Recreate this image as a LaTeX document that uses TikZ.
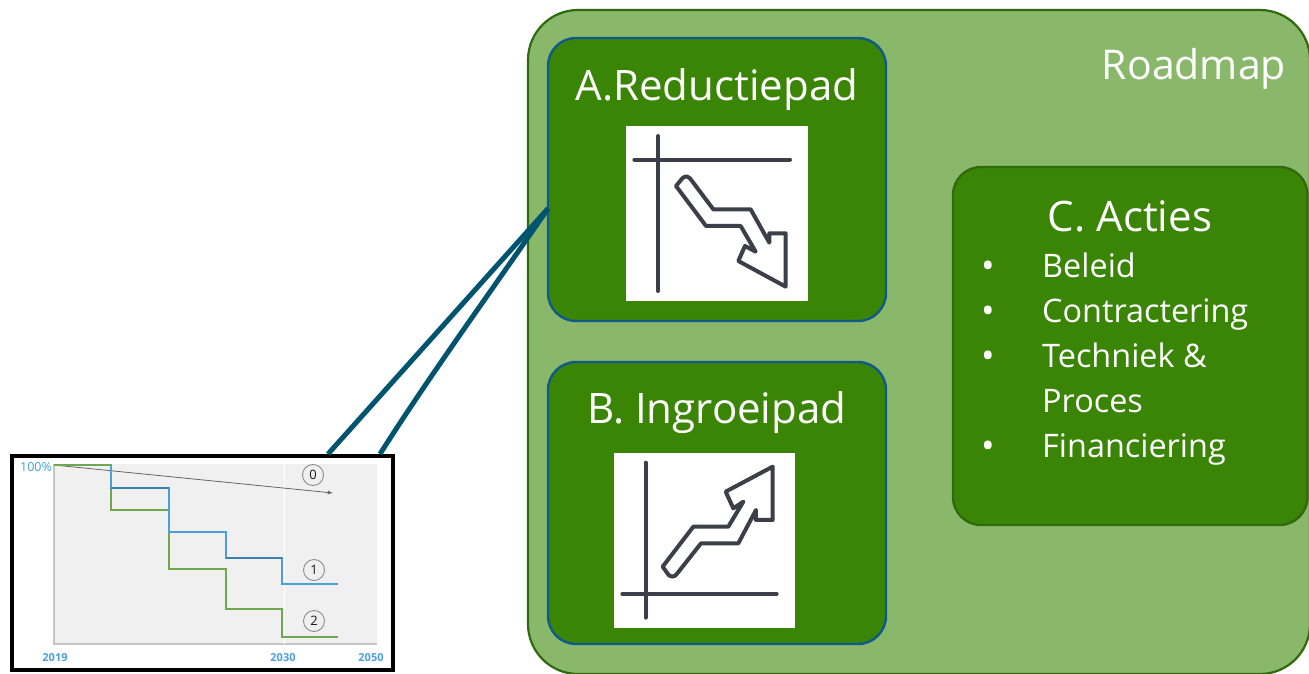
\documentclass[tikz,border=0pt]{standalone}
\usepackage{fontspec}
\setmainfont{Open Sans}
\definecolor{outerfill}{HTML}{8AB86B}
\definecolor{outerline}{HTML}{2F6A0C}
\definecolor{boxfill}{HTML}{3A8506}
\definecolor{boxline}{HTML}{0F5A8A}
\definecolor{teal}{HTML}{005470}
\definecolor{iconink}{HTML}{3A3F4A}
\definecolor{chartbg}{HTML}{F0F0F0}
\definecolor{chartaxis}{HTML}{C6C6C6}
\definecolor{chartblue}{HTML}{4AA0DC}
\definecolor{chartgreen}{HTML}{6FA84F}
\tikzset{
  x=1pt,y=-1pt,
  panel/.style={draw=boxline,line width=2.4pt,fill=boxfill,rounded corners=28pt,inner sep=0pt,outer sep=0pt,anchor=north west},
  heading/.style={text=white,font=\fontsize{42}{50}\selectfont,inner sep=0pt},
  listitem/.style={text=white,font=\fontsize{32.4}{38}\selectfont,inner sep=0pt,anchor=base west},
  bulletmark/.style={text=white,font=\fontsize{36}{42}\selectfont,inner sep=0pt,anchor=base},
  iconbox/.style={fill=white,inner sep=0pt,outer sep=0pt,anchor=north west},
  iconstroke/.style={draw=iconink,line width=4pt,line cap=round,line join=round},
  connector/.style={draw=teal,line width=5pt},
  stepline/.style={line width=1.5pt,line join=miter},
  yearlabel/.style={text=chartblue,font=\fontsize{11}{13}\selectfont\bfseries,inner sep=0pt},
  numcircle/.style={circle,draw=black!45,fill=chartbg,line width=0.9pt,minimum size=21pt,inner sep=0pt,text=black!90,font=\fontsize{13}{15}\selectfont},
}
\begin{document}
\begin{tikzpicture}
\useasboundingbox (0,0) rectangle (1309,674);
\fill[white] (0,0) rectangle (1309,674);
% outer panel
\node[draw=outerline,line width=2.2pt,fill=outerfill,rounded corners=50pt,inner sep=0pt,outer sep=0pt,anchor=north west,minimum width=782pt,minimum height=664pt] (outer) at (528,10) {};
\node[heading,font=\fontsize{41}{50}\selectfont] (roadmap) at (1194,69) {Roadmap};
% chart frame
\node[draw=black,line width=4pt,fill=white,inner sep=0pt,outer sep=0pt,anchor=north west,minimum width=381pt,minimum height=214pt] (frame) at (12,456) {};
% panels
\node[panel,minimum width=338pt,minimum height=283pt] (panelA) at (548,38) {};
\node[panel,minimum width=338pt,minimum height=282pt] (panelB) at (548,362) {};
\node[panel,draw=outerline,minimum width=354.5pt,minimum height=358pt] (panelC) at (953,167) {};
% connectors
\coordinate (tipA) at (panelA.west);
\coordinate (tipF1) at (328,454);
\coordinate (tipF2) at (380,454);
\draw[connector] ([yshift=-29pt]tipA) -- (tipF1);
\draw[connector] ([yshift=-29pt]tipA) .. controls (490,293) and (430,375) .. (tipF2);
% headings
\node[heading] (titleA) at (717,90) {A.Reductiepad};
\node[heading] (titleB) at (717,413) {B. Ingroeipad};
\node[heading] (titleC) at (1130,216) {C. Acties};
% list
\foreach \nm/\yy/\tx in {a/277/Beleid,b/322/Contractering,c/367/Techniek \&,d/412/Proces,e/457/Financiering}{
  \node[listitem] (item\nm) at (1042,\yy) {\tx};
}
\foreach \nm/\yy in {a/278,b/323,c/368,e/458}{
  \node[bulletmark] (dot\nm) at (988,\yy) {•};
}
% icon A
\node[iconbox,minimum width=182pt,minimum height=175pt] (iconA) at (626,126) {};
\begin{scope}[shift={(610,110)},x=0.3333pt,y=-0.3333pt]
\draw[iconstroke] (144,78) -- (144,543);
\draw[iconstroke] (73,149) -- (540,149);
\draw[iconstroke] (198,228) -- (218,204) .. controls (228,196) and (236,200) .. (240,205) -- (310,298) -- (422,298) -- (478,398) -- (478,370) -- (527,370) -- (527,530) -- (385,453) -- (405,408) -- (437,425) -- (392,348) -- (288,348) -- cycle;
\end{scope}
% icon B
\node[iconbox,minimum width=181pt,minimum height=175pt] (iconB) at (614,453) {};
\begin{scope}[shift={(600,440)},x=0.3333pt,y=-0.3333pt]
\draw[iconstroke] (137,68) -- (137,533);
\draw[iconstroke] (67,462) -- (530,462);
\draw[iconstroke] (188,380) -- (280,260) -- (385,260) -- (430,185) -- (400,205) -- (377,155) -- (518,80) -- (518,240) -- (468,240) -- (468,210) -- (415,310) -- (303,310) -- (232,400) .. controls (224,412) and (214,412) .. (206,405) -- cycle;
\end{scope}
% chart
\fill[chartbg] (54,464) rectangle (377,644);
\draw[chartaxis,line width=1.5pt] (54,464) -- (54,644) -- (377,644);
\draw[white,line width=0.8pt] (284,464) -- (284,644);
\draw[black!60,line width=0.8pt,-latex] (54,465) -- (333,493);
\draw[chartgreen,stepline] (54,465) -- (111,465) -- (111,510) -- (169,510) -- (169,569) -- (226,569) -- (226,609) -- (282,609) -- (282,637) -- (338,637);
\draw[chartblue,stepline] (111,465) -- (111,488) -- (169,488) -- (169,532) -- (226,532) -- (226,558) -- (282,558) -- (282,584) -- (338,584);
\draw[chartblue!80!black,line width=2pt] (226,558) -- (282,558);
\draw[chartblue!80!black,line width=1.5pt] (111,488) -- (169,488);
\draw[chartgreen,stepline] (54,465) -- (111,465);
\node[numcircle] (c0) at (313,475) {0};
\node[numcircle] (c1) at (314,570) {1};
\node[numcircle] (c2) at (314,621) {2};
\node[yearlabel,font=\fontsize{12.5}{14}\selectfont] (l100) at (36,467) {100\%};
\node[yearlabel] (y19) at (55,658) {2019};
\node[yearlabel] (y30) at (283,658) {2030};
\node[yearlabel] (y50) at (371,658) {2050};
\end{tikzpicture}
\end{document}
